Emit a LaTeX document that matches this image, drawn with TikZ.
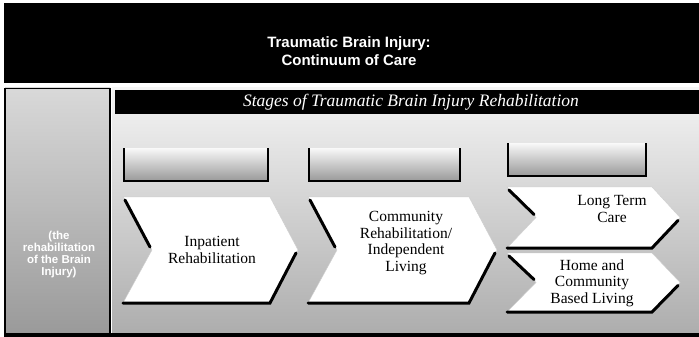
\documentclass[tikz,border=0pt]{standalone}
\usepackage{fontspec}
\setmainfont{Liberation Serif}
\newfontfamily\titlefont{Liberation Sans}
\usetikzlibrary{positioning, calc}

\begin{document}
\begin{tikzpicture}[x=1pt, y=-1pt,
        chev/.style={fill=white, draw=gray!40, line width=0.4pt},
        chevshade/.style={draw=black, line width=3pt, line cap=round},
        tabbox/.style={top color=gray!5, bottom color=gray!80, draw=none},
        tabedge/.style={draw=black, line width=1.4pt},
        stage/.style={font=\fontsize{15.5}{16.5}\selectfont, align=center, inner sep=0pt},
        sidetxt/.style={font=\titlefont\bfseries\fontsize{11.5}{12}\selectfont, text=white, align=center, inner sep=0pt}
      ]
        \useasboundingbox (0,0) rectangle (699,337);
        \fill[white] (0,0) rectangle (699,337);

        % title banner
        \fill[black] (4,3) rectangle (699,83);
        \node[font=\titlefont\bfseries\fontsize{15}{18.5}\selectfont, text=white, align=center] (title) at (349,51)
          {Traumatic Brain Injury:\\Continuum of Care};

        % left column and main panel
        \shade[top color=gray!30, bottom color=gray!80] (5,88) rectangle (110,337);
        \draw[black, line width=1.2pt] (5,88) -- (5,337) (110,88) -- (110,337);
        \draw[black, line width=0.8pt] (5,88) -- (110,88);
        \node[sidetxt] (side) at (59,255) {(the\\rehabilitation\\of the Brain\\Injury)};
        \shade[top color=gray!8, middle color=gray!22, bottom color=gray!65] (112,88) rectangle (699,337);
        \fill[black] (5,333) rectangle (699,337);

        % stages header
        \fill[black] (115,90) rectangle (699,114);
        \node[font=\itshape\fontsize{17.5}{20}\selectfont, text=white] (stages) at (411,102)
          {Stages of Traumatic Brain Injury Rehabilitation};

        % tabs above the chevrons
        \foreach \l/\r/\t/\b in {124/268/148/181, 309/460/148/181, 508/646/143/176} {
          \shade[tabbox] (\l,\t) rectangle (\r,\b);
          \draw[tabedge] (\l,\t) -- (\l,\b) -- (\r,\b) -- (\r,\t);
        }

        % chevrons with their dark edges
        \foreach \l/\r/\t/\b in {123/270/197/303, 308/469/197/303, 507/652/187/248, 507/652/253/312} {
          \filldraw[chev] (\l,\t) -- (\r,\t) -- ({\r+28},{(\t+\b)/2}) -- (\r,\b) -- (\l,\b)
            -- ({\l+29},{(\t+\b)/2}) -- cycle;
          \draw[chevshade] ({\l+2},{\t+3}) -- ({\l+27},{(\t+\b)/2-3});
          \draw[chevshade] (\l,\b) -- (\r,\b) -- ({\r+26},{(\t+\b)/2+3});
        }

        \node[stage] (inpat) at (212,250) {Inpatient\\Rehabilitation};
        \node[stage] (commun) at (406,243) {Community\\Rehabilitation/\\Independent\\Living};
        \node[stage] (ltc) at (612,209) {Long Term\\Care};
        \node[stage] (home) at (592,283) {Home and\\Community\\Based Living};
      \end{tikzpicture}
\end{document}
